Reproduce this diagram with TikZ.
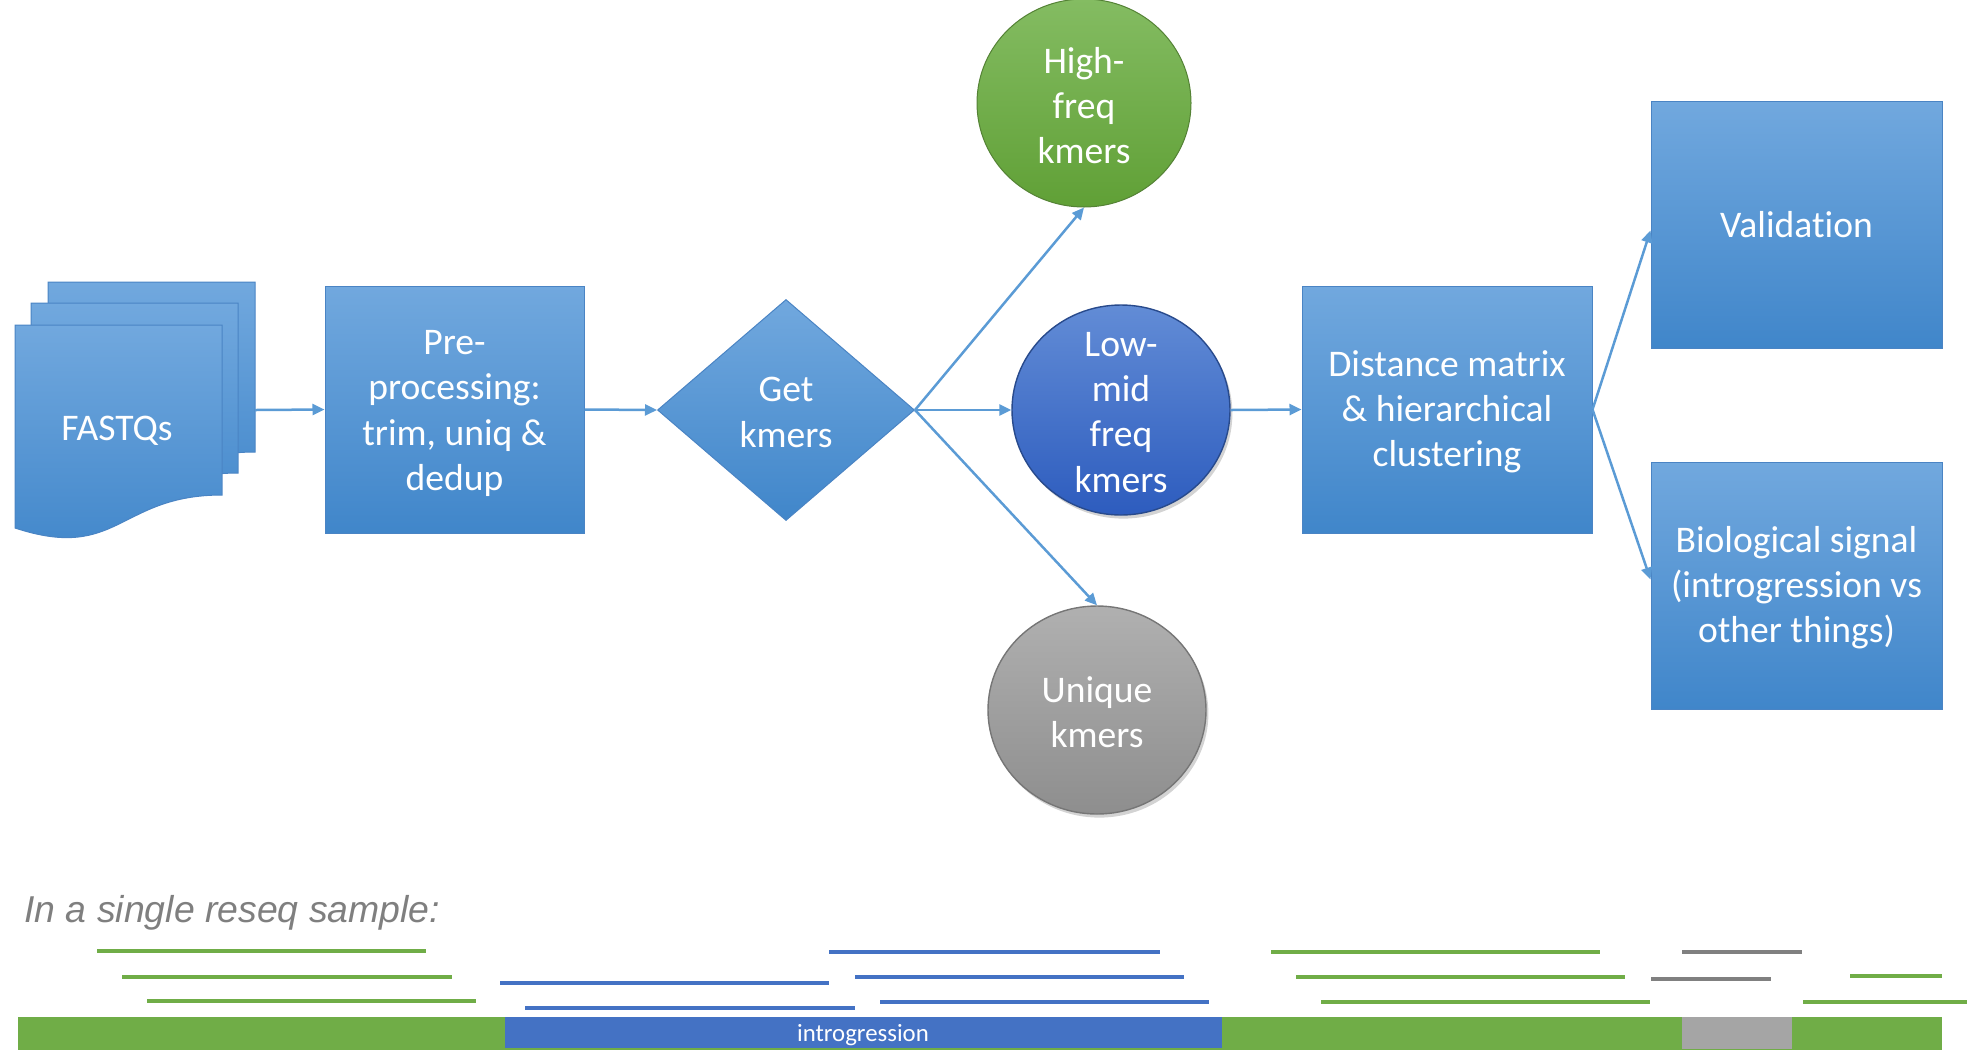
\documentclass[tikz,border=0pt]{standalone}
\usepackage{fontspec}
\setmainfont{Carlito}[Ligatures={NoCommon,NoContextual}]
\newfontfamily\arialfont{Liberation Sans}
\usetikzlibrary{shapes.geometric,arrows.meta,shadows}
\definecolor{btop}{RGB}{113,168,222}
\definecolor{bbot}{RGB}{64,134,202}
\definecolor{bedge}{RGB}{74,132,196}
\definecolor{gtop}{RGB}{132,188,98}
\definecolor{gbot}{RGB}{96,160,54}
\definecolor{gedge}{RGB}{84,130,53}
\definecolor{ltop}{RGB}{98,140,214}
\definecolor{lbot}{RGB}{45,92,190}
\definecolor{ledge}{RGB}{40,74,140}
\definecolor{utop}{RGB}{176,176,176}
\definecolor{ubot}{RGB}{142,142,142}
\definecolor{uedge}{RGB}{118,118,118}
\definecolor{arrowc}{RGB}{91,155,213}
\definecolor{rgreen}{RGB}{112,173,71}
\definecolor{rblue}{RGB}{68,114,196}
\definecolor{rgray}{RGB}{128,128,128}
\definecolor{bgray}{RGB}{165,165,165}
\definecolor{ttlgray}{RGB}{127,127,127}
\tikzset{
  txt/.style={text=white, font=\fontsize{18.8}{22.6}\selectfont, align=center, inner sep=0pt, yshift=-1.2pt},
  sheet/.style={draw=bedge, line width=0.5pt, top color=btop, bottom color=bbot},
  bluebox/.style={draw=bedge, line width=0.5pt, top color=btop, bottom color=bbot, rectangle, inner sep=0pt},
  getd/.style={draw=bedge, line width=0.5pt, top color=btop, bottom color=bbot, diamond, inner sep=0pt, minimum width=128.5pt, minimum height=110.5pt},
  hfc/.style={draw=gedge, line width=0.5pt, top color=gtop, bottom color=gbot, ellipse, inner sep=0pt, minimum width=107pt, minimum height=104pt},
  lmc/.style={draw=ledge, line width=0.7pt, top color=ltop, bottom color=lbot, ellipse, inner sep=0pt, minimum width=109pt, minimum height=105pt, drop shadow={opacity=0.35, shadow xshift=1.2pt, shadow yshift=-1.8pt}},
  unc/.style={draw=uedge, line width=0.7pt, top color=utop, bottom color=ubot, ellipse, inner sep=0pt, minimum width=109pt, minimum height=104pt, drop shadow={opacity=0.35, shadow xshift=1.2pt, shadow yshift=-1.8pt}},
  flow/.style={draw=arrowc, line width=1.25pt, -{Triangle[length=6pt,width=5.5pt]}},
  readg/.style={draw=rgreen, line width=1.6pt},
  readb/.style={draw=rblue, line width=1.6pt},
  readgr/.style={draw=rgray, line width=1.6pt},
}
\begin{document}
\begin{tikzpicture}[x=0.5pt,y=-0.5pt]
\useasboundingbox (0,0) rectangle (1970,1062);

% FASTQ stack
\path[sheet] (48,282) -- (255,282) -- (255,452) .. controls (151.5,452) and (151.5,519) .. (48,485) -- cycle;
\path[sheet] (31,303) -- (238,303) -- (238,473) .. controls (134.5,473) and (134.5,540) .. (31,506) -- cycle;
\path[sheet] (15,325) -- (222,325) -- (222,495) .. controls (118.5,495) and (118.5,562) .. (15,528) -- cycle;
\node[txt, yshift=-0.8pt] (fastq) at (117,427) {FASTQs};
\coordinate (fqout) at (255,410);

% main boxes
\node[bluebox, minimum width=129.5pt, minimum height=123.5pt] (pre) at (454.5,409.5) {};
\node[txt, yshift=-0.8pt] at (pre) {Pre-\\processing:\\trim, uniq \&\\dedup};
\node[getd] (get) at (786,410) {};
\node[txt] at (get) {Get\\kmers};
\node[hfc] (high) at (1084,103) {};
\node[txt] at (high) {High-\\freq\\kmers};
\node[lmc] (lm) at (1121,410) {};
\node[txt] at (lm) {Low-\\mid\\freq\\kmers};
\node[unc] (uniq) at (1097,710) {};
\node[txt] at (uniq) {Unique\\kmers};
\node[bluebox, minimum width=145pt, minimum height=123.5pt] (dist) at (1447,409.5) {};
\node[txt] at (dist) {Distance matrix\\\& hierarchical\\clustering};
\node[bluebox, minimum width=145.5pt, minimum height=123.5pt] (val) at (1796.5,224.5) {};
\node[txt, yshift=1.2pt] at (val) {Validation};
\node[bluebox, minimum width=145.5pt, minimum height=123.5pt] (bio) at (1796.5,585.5) {};
\node[txt] at (bio) {Biological signal\\(introgression vs\\other things)};

% connectors
\draw[flow] (fqout) -- (pre.west);
\draw[flow] (pre.east) -- (get.west);
\draw[flow] (get.east) -- (high.south);
\draw[flow] (get.east) -- (lm.west);
\draw[flow] (get.east) -- (uniq.north);
\draw[flow] (lm.east) -- (dist.west);
\draw[flow] (dist.east) -- ([yshift=-3pt]val.west);
\draw[flow] (dist.east) -- ([yshift=3pt]bio.west);

% bottom panel
\node[anchor=base west, inner sep=0pt, text=ttlgray, font=\arialfont\itshape\fontsize{18.7}{22}\selectfont] (ttl) at (24,922) {In a single reseq sample:};

\fill[rgreen] (18,1017) rectangle (1942,1050);
\fill[rblue] (505,1017) rectangle (1222,1048);
\fill[bgray] (1682,1017) rectangle (1792,1049);
\node[text=white, font=\fontsize{12.4}{14}\selectfont, inner sep=0pt] (intro) at (863,1035) {introgression};

\draw[readg] (97,951) -- (426,951);
\draw[readg] (122,977) -- (452,977);
\draw[readg] (147,1001) -- (476,1001);
\draw[readb] (500,983) -- (829,983);
\draw[readb] (525,1008) -- (855,1008);
\draw[readb] (829,952) -- (1160,952);
\draw[readb] (855,977) -- (1184,977);
\draw[readb] (880,1002) -- (1209,1002);
\draw[readg] (1271,952) -- (1600,952);
\draw[readg] (1296,977) -- (1625,977);
\draw[readg] (1321,1002) -- (1650,1002);
\draw[readgr] (1682,952) -- (1802,952);
\draw[readgr] (1651,979) -- (1771,979);
\draw[readg] (1850,976) -- (1942,976);
\draw[readg] (1803,1002) -- (1967,1002);
\end{tikzpicture}
\end{document}
